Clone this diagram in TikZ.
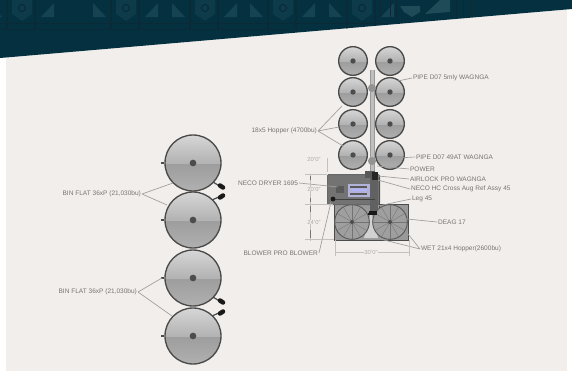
\documentclass[tikz,border=0pt]{standalone}
\usepackage{fontspec}
\setmainfont{Liberation Sans}
\usetikzlibrary{calc}
\definecolor{band}{HTML}{04303F}
\definecolor{bandb}{HTML}{0D3B4A}
\definecolor{bandl}{HTML}{1F4A57}
\definecolor{bands}{HTML}{154351}
\definecolor{bandd}{HTML}{0A2A38}
\definecolor{panel}{HTML}{F1EEEB}
\definecolor{labelc}{HTML}{777574}
\definecolor{ringc}{HTML}{4A4A4A}
\tikzset{
  x=0.75pt,y=-0.75pt,
  lbl/.style={font=\fontsize{4.9}{5.5}\selectfont,text=labelc,inner sep=0.6pt},
  lead/.style={draw=labelc!70,line width=0.5pt},
  dim/.style={draw=labelc!45,line width=0.4pt},
  dimtxt/.style={font=\fontsize{4.4}{5}\selectfont,text=labelc!60,inner sep=0.3pt},
  bandmark/.style={draw=bandd,line width=1.6pt},
  bandshape/.style={fill=bands},
  hopper/.style={circle,minimum size=#1,inner sep=0pt,draw=ringc,line width=1pt,
     path picture={
       \fill[top color=gray!92,bottom color=gray!62] (path picture bounding box.west |- path picture bounding box.south) rectangle (path picture bounding box.east);
       \fill[top color=gray!32,bottom color=gray!60] (path picture bounding box.north west) rectangle (path picture bounding box.east);
     }},
  hub/.style={circle,fill=black!70,minimum size=#1,inner sep=0pt},
  wheel/.style={circle,minimum size=26pt,inner sep=0pt,draw=black!65,line width=0.7pt,fill=gray!75},
}
\begin{document}
\begin{tikzpicture}
\useasboundingbox (0,0) rectangle (572,371);
\fill[white] (0,0) rectangle (572,371);
\fill[panel] (6,0) rectangle (567,371);
% band
\fill[band] (0,0) -- (572,0) -- (572,9) -- (0,58) -- cycle;
\begin{scope}
\clip (0,0) -- (572,0) -- (572,9) -- (0,58) -- cycle;
\foreach \x in {22,126,205,283,362}{
  \fill[bandb] (\x-10,0) -- (\x+10,0) -- (\x+10,14) -- (\x,21) -- (\x-10,14) -- cycle;
  \draw[bandd,line width=0.8pt] (\x,8) circle (3.5);
  \draw[bandmark] (\x-15,0) -- (\x-15,30);
  \draw[bandmark] (\x+13,0) -- (\x+13,30);
  \fill[bandshape] (\x+19,17) -- (\x+32,3) -- (\x+32,17) -- cycle;
  \fill[bandshape] (\x-33,3) -- (\x-20,17) -- (\x-33,17) -- cycle;
}
\draw[bandd,line width=0.7pt] (0,23) -- (390,23);
\draw[bandd,line width=0.7pt] (0,29) -- (290,29);
\fill[bandl] (400,6) -- (420,6) -- (420,12) -- (412,17) -- (404,12) -- cycle;
\fill[bandl] (425,14) -- (440,0) -- (450,0) -- (450,12) -- cycle;
\foreach \x in {380,390,396,456,463,470}{\draw[bandd,line width=0.7pt] (\x,0) -- (\x,17);}
\end{scope}
% small hoppers
\foreach \n/\cx/\cy in {a/353/61,b/390/61,c/353/92,d/390/92,e/353/124,f/390/124,g/353/155,h/390/155}{
  \node[hopper=21.5pt] (\n) at (\cx,\cy) {};
  \node[hub=4pt] at (\n.center) {};
}
% pipes
\fill[gray!50] (370,70) rectangle (374,172);
\draw[gray!80,line width=0.3pt] (370,70) -- (370,172) (374,70) -- (374,172);
\fill[gray!85] (372,88) circle (4);
\fill[gray!85] (372,161) circle (4);
% big bins
\foreach \n/\cy in {p/163,q/220,r/278,s/336}{
  \node[hopper=42pt] (\n) at (193,\cy) {};
  \node[hub=5pt] at (\n.center) {};
  \fill[ringc] (\n.west)+(-3,-0.8) rectangle +(0,0.8);
}
\foreach \n/\m in {p/q,r/s}{
  \draw[ringc,line width=0.9pt] ($(\n.center)+(20,19)$) -- ($(\n.center)+(28,24)$);
  \draw[black!90,line width=3.4pt,line cap=round] ($(\n.center)+(27,22.5)$) -- ($(\n.center)+(30,24.5)$);
  \draw[ringc,line width=0.9pt] ($(\m.center)+(19,-20)$) -- ($(\m.center)+(28,-24)$);
  \draw[black!90,line width=3.4pt,line cap=round] ($(\m.center)+(27,-22.5)$) -- ($(\m.center)+(30,-24.5)$);
}
% wet hopper frame
\node[draw=black!70,line width=1pt,fill=black!40,minimum width=55.5pt,minimum height=27pt,inner sep=0pt,anchor=north west] (wet) at (334,204) {};
\fill[gray!35] (371,212) -- (378,238) -- (364,238) -- cycle;
\node[wheel] (wl) at (352,222) {};
\node[wheel] (wr) at (390,222) {};
\foreach \a in {0,30,...,330}{
  \draw[black!55,line width=0.25pt] (wl.center) -- +(\a:17);
  \draw[black!55,line width=0.25pt] (wr.center) -- +(\a:17);
}
\node[hub=3pt] at (wl.center) {};
\node[hub=3pt] at (wr.center) {};
% dryer
\node[draw=black!60,line width=0.8pt,fill=black!55,rounded corners=1pt,minimum width=39pt,minimum height=22.5pt,inner sep=0pt,anchor=north west] (dry) at (327,174) {};
\fill[black!62] (370,174) rectangle (378,211);
\draw[black!70,line width=0.7pt] (379,176) -- (379,208);
\fill[black!65] (336,186) rectangle (344,193);
\fill[blue!35!gray!45] (348,184) -- (370,184) -- (370,197) -- (348,197) -- cycle;
\draw[black!65,line width=1pt] (350,187) -- (367,187) (350,194) -- (367,194);
\draw[white!70!blue,line width=0.8pt] (352,190) -- (366,190);
\draw[black!75,line width=0.8pt] (333,199.5) -- (375,199.5);
\fill[black!90] (333,199) circle (2.4);
\fill[black!65] (365,171) rectangle (375,178);
\fill[black!85] (372,172) rectangle (378,180);
\fill[black!90] (369,211) rectangle (377,215);
\draw[black!90,line width=1pt] (368,214) -- (376,214);
% labels
\node[lbl,anchor=west] (l1) at (412,78) {PIPE D07 5mly WAGNGA};
\draw[lead] (l1.west) -- (398,81);
\node[lbl,anchor=east] (l2) at (318,131) {18x5 Hopper (4700bu)};
\draw[lead] (l2.east) -- (342,106) (l2.east) -- (339,127) (l2.east) -- (343,146);
\node[lbl,anchor=west] (l3) at (415,157) {PIPE D07 49AT WAGNGA};
\draw[lead] (l3.west) -- (398,158);
\node[lbl,anchor=west] (l4) at (409,169) {POWER};
\draw[lead] (l4.west) -- (377,166);
\node[lbl,anchor=west] (l5) at (409,179) {AIRLOCK PRO WAGNGA};
\draw[lead] (l5.west) -- (378,176);
\node[lbl,anchor=west] (l6) at (410,189) {NECO HC Cross Aug Ref Assy 45};
\draw[lead] (l6.west) -- (378,180);
\node[lbl,anchor=west] (l7) at (411,199) {Leg 45};
\draw[lead] (l7.west) -- (378,206);
\node[lbl,anchor=east] (l8) at (299,183) {NECO DRYER 1695};
\draw[lead] (l8.east) -- (338,187);
\node[lbl,anchor=west] (l9) at (437,222) {DEAG 17};
\draw[lead] (l9.west) -- (397,218);
\node[lbl,anchor=west] (l10) at (420,249) {WET 21x4 Hopper(2600bu)};
\draw[lead] (l10.west) -- (380,239) (l10.west) -- (408,234);
\node[lbl,anchor=east] (l11) at (319,253) {BLOWER PRO BLOWER};
\draw[lead] (l11.east) -- (331,202);
\node[lbl,anchor=east] (l12) at (142,194) {BIN FLAT 36xP (21,030bu)};
\draw[lead] (l12.east) -- (173,183) (l12.east) -- (167,205);
\node[lbl,anchor=east] (l13) at (138,292) {BIN FLAT 36xP (21,030bu)};
\draw[lead] (l13.east) -- (162,278) (l13.east) -- (172,316);
% dimensions
\coordinate (d3) at (310,174);
\coordinate (d4) at (310,204);
\coordinate (d5) at (310,241);
\coordinate (d6) at (335,252);
\coordinate (d7) at (409,252);
\draw[dim] (327,158) -- (327,172);
\node[dimtxt] at (314,159) {20'0"};
\draw[dim] (305,174) -- (327,174) (305,204) -- (333,204) (305,239) -- (334,239);
\draw[dim] (d3) -- (d4) (d4) -- (d5);
\draw[labelc,line width=0.7pt] (310,176) -- (310,180) (310,198) -- (310,202) (310,206) -- (310,212) (310,230) -- (310,238);
\node[dimtxt,fill=panel] at (314,189) {20'0"};
\node[dimtxt,fill=panel] at (314,222) {24'0"};
\draw[dim] (335,240) -- (335,256) (409,240) -- (409,256) (d6) -- (d7);
\node[dimtxt,fill=panel] at (371,252) {30'0"};
\end{tikzpicture}
\end{document}
